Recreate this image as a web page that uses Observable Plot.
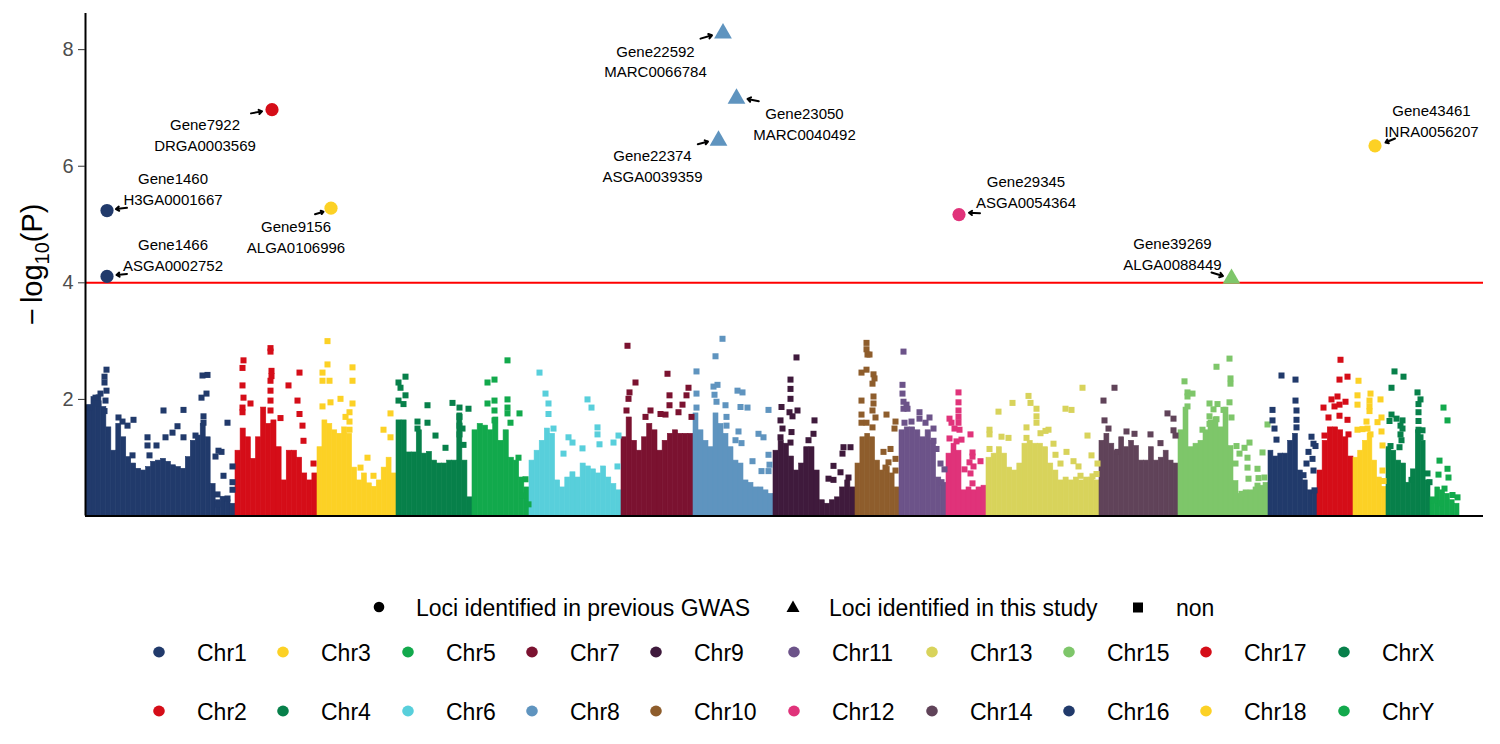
<!DOCTYPE html>
<html><head><meta charset="utf-8">
<script src="https://cdn.jsdelivr.net/npm/d3@7"></script>
<script src="https://cdn.jsdelivr.net/npm/@observablehq/plot@0.6"></script>
<style>
body{margin:0;background:#fff;font-family:"Liberation Sans",Arial,sans-serif;}
#wrap{position:relative;width:1500px;height:744px;overflow:hidden;}
#legend{position:absolute;left:0;top:0;width:1500px;height:744px;pointer-events:none;}
.lt{position:absolute;font-size:23px;color:#000;line-height:1;white-space:nowrap;transform:translateY(-50%);}
.lk{position:absolute;transform:translate(-50%,-50%);}
</style></head><body>
<div id="wrap"><div id="chart"></div><div id="legend"></div></div>
<script>
// ---------- data ----------
const chromosomes = ["Chr1","Chr2","Chr3","Chr4","Chr5","Chr6","Chr7","Chr8","Chr9","Chr10","Chr11","Chr12","Chr13","Chr14","Chr15","Chr16","Chr17","Chr18","ChrX","ChrY"];
const chromLengths = [149,82,79,76,57,92,72,80,82,44,47,40,113,79,90,49,36,33,44,29];
const chromColors = ["#213a6b","#d50d18","#fcd125","#07804a","#12a94c","#58cfdb","#7b1230","#5f94bf","#3f1a3c","#8e5d2c","#6c5389","#e0337a","#d8d35b","#604359","#7ec66a","#213a6b","#d50d18","#fcd125","#07804a","#12a94c"];

// upper edge of the dense cloud of -log10(P) values, sampled evenly along each chromosome
const chr1Top = [1.90,2.04,2.07,1.87,1.52,1.12,1.58,1.35,1.01,0.90,0.81,0.78,0.84,0.93,0.95,0.98,0.93,0.87,0.84,0.81,1.01,1.29,1.38,1.58,1.35,0.55,0.27,0.33,0.27,0.21];
const chr2Top = [1.12,1.50,1.35,0.98,1.35,1.86,1.58,1.64,1.18,0.61,1.12,1.12,1.00,0.73,0.61,0.73];
const chr3Top = [1.18,1.64,1.58,1.47,1.41,1.52,1.41,0.83,0.61,0.73,0.56,0.50,0.61,0.83,1.00,0.73];
const chr4Top = [1.64,1.64,1.09,1.09,1.47,1.07,1.10,0.95,0.90,0.90,0.95,0.95,1.76,0.95,0.32];
const chr5Top = [1.47,1.58,1.55,1.47,1.69,1.29,1.47,1.00,0.95,0.66,0.49];
const chr6Top = [0.95,1.12,1.29,1.50,1.41,0.61,0.49,0.66,0.75,0.66,0.90,0.85,0.80,0.73,0.85,0.66,0.55,0.44];
const chr7Top = [1.35,1.69,1.29,1.12,1.35,1.58,1.47,1.12,1.29,1.41,1.47,1.41,1.41,1.41];
const chr8Top = [1.76,1.47,1.29,1.18,1.76,1.58,1.41,1.18,0.95,0.90,0.61,0.57,0.49,0.49,0.44,0.38];
const chr9Top = [1.12,1.29,1.24,1.02,0.78,0.90,1.18,1.18,0.78,0.27,0.21,0.27,0.32,0.49,0.61,0.49];
const chr10Top = [0.90,1.35,1.41,1.35,0.95,0.78,0.84,0.73,0.49];
const chr11Top = [1.47,1.52,1.52,1.47,1.35,1.47,1.29,0.66,0.57];
const chr12Top = [1.07,1.24,1.12,0.44,0.49,0.44,0.49,0.52];
const chr13Top = [1.00,1.07,1.18,1.07,0.83,0.78,0.90,1.24,1.29,1.24,1.24,1.18,0.90,0.78,0.61,0.66,0.61,0.66,0.61,0.66,0.66,0.61];
const chr14Top = [1.29,1.41,1.24,1.12,1.35,1.18,1.29,1.20,0.95,0.95,1.18,0.95,1.00,1.12,0.95,0.90];
const chr15Top = [1.47,1.86,1.18,1.24,1.29,1.47,1.64,1.69,1.52,1.86,1.20,0.60,0.38,0.44,0.44,0.49,0.52,0.57];
const chr16Top = [1.12,1.02,1.07,1.07,1.29,1.41,0.78,0.61,0.44,0.44];
const chr17Top = [0.78,1.29,1.52,1.52,1.47,1.35,1.02];
const chr18Top = [1.00,1.12,1.29,1.41,0.95,0.66,0.50];
const chrXTop = [1.18,1.12,0.95,0.90,0.57,0.80,1.47,1.29,0.61];
const chrYTop = [0.32,0.49,0.44,0.38,0.27,0.21];

// scattered SNPs above the cloud: [position within chromosome, -log10(P)]
const chr1Snps = [[20,2.51],[18,2.39],[18,2.29],[20,2.15],[19,1.98],[18,1.80],[14,2.10],[9,2.03],[12,1.93],[3,1.86],[32,1.69],[36,1.62],[41,1.55],[47,1.65],[77,1.81],[97,1.82],[91,1.54],[97,1.35],[79,1.35],[86,1.43],[61,1.35],[61,1.21],[70,1.21],[63,1.04],[46,1.04],[116,2.41],[121,2.42],[120,2.10],[115,2.03],[117,1.71],[117,1.60],[141,1.60],[109,1.38],[132,1.12],[135,1.10],[129,1.02],[146,0.85],[137,0.69],[131,0.37],[146,0.58],[146,0.45],[141,0.30],[131,0.20]];
const chr2Snps = [[8,2.67],[7,2.54],[7,2.24],[8,2.03],[15,1.93],[7,1.86],[7,1.78],[35,2.88],[35,2.82],[36,2.49],[36,2.40],[35,2.32],[35,2.15],[35,1.98],[35,1.81],[64,2.46],[53,2.24],[62,1.98],[45,1.68],[64,1.75],[67,1.55],[68,1.29],[78,0.90]];
const chr3Snps = [[10,3.00],[10,2.60],[5,2.46],[35,2.55],[5,2.32],[12,2.32],[35,2.32],[23,2.01],[13,1.95],[5,1.88],[35,1.93],[32,1.78],[32,1.62],[32,1.48],[73,1.76],[66,1.48],[73,1.35],[50,1.00],[43,0.83],[56,0.69],[28,1.70]];
const chr4Snps = [[2,2.29],[9,2.39],[4,2.20],[9,2.07],[2,1.98],[7,1.92],[31,1.90],[31,1.60],[21,1.62],[21,1.50],[39,1.38],[49,1.17],[56,1.94],[63,1.86],[63,1.70],[63,1.55],[63,1.40],[72,1.84],[66,1.50],[67,1.22]];
const chr5Snps = [[15,2.29],[22,2.34],[15,1.93],[22,1.98],[22,1.81],[22,1.64],[35,2.67],[35,2.00],[35,1.86],[35,1.76],[47,1.76],[38,1.60],[46,1.00],[53,0.63],[50,0.35],[56,0.20]];
const chr6Snps = [[10,2.46],[16,2.10],[19,1.93],[19,1.75],[58,2.00],[62,1.86],[68,1.52],[68,1.40],[39,1.35],[43,1.26],[89,1.38],[84,1.26],[53,1.16],[70,1.23],[88,0.85],[34,1.07],[24,1.50]];
const chr7Snps = [[6,2.92],[7,2.01],[8,2.12],[5,1.81],[14,2.29],[29,1.81],[46,2.44],[48,2.07],[48,1.90],[44,1.74],[57,1.78],[61,1.91],[67,2.20],[65,2.07],[24,1.70],[39,1.75],[70,1.70]];
const chr8Snps = [[29,3.04],[22,2.74],[3,2.48],[3,2.10],[3,1.86],[20,2.22],[24,2.25],[21,2.08],[23,1.96],[32,1.90],[44,2.15],[49,2.12],[47,1.87],[54,1.86],[75,1.82],[45,1.45],[65,1.41],[70,1.35],[75,1.05],[59,0.94],[68,0.77],[75,0.77],[76,0.88],[33,1.70],[33,1.55],[48,1.25],[42,1.30]];
const chr9Snps = [[23,2.72],[17,2.34],[17,2.18],[17,2.01],[16,1.78],[19,1.71],[18,1.44],[17,1.26],[24,1.81],[8,1.87],[7,1.64],[9,1.50],[41,1.64],[40,1.41],[77,1.18],[70,1.18],[69,1.07],[60,0.86],[55,0.64],[60,0.62],[67,0.75],[75,0.66],[7,1.35],[35,1.30]];
const chr10Snps = [[11,2.97],[11,2.86],[12,2.77],[14,2.77],[11,2.51],[6,2.46],[18,2.43],[19,2.36],[17,2.27],[18,2.05],[6,1.98],[18,1.93],[17,1.81],[6,1.74],[20,1.69],[31,1.74],[40,1.62],[39,1.50],[6,1.60],[11,1.60],[17,1.52],[33,0.92],[40,0.98],[30,0.83],[40,0.78],[28,1.10],[35,1.15]];
const chr11Snps = [[4,2.82],[3,2.25],[3,2.10],[4,1.96],[7,1.91],[4,1.84],[8,1.84],[20,1.78],[20,1.67],[30,1.69],[5,1.60],[12,1.62],[34,1.50],[34,1.29],[41,0.90],[45,0.80],[42,0.58],[26,1.60],[37,1.15]];
const chr12Snps = [[12,2.12],[12,1.95],[12,1.81],[12,1.70],[3,1.67],[5,1.60],[12,1.60],[8,1.50],[13,1.48],[15,1.31],[24,1.40],[3,1.33],[10,1.28],[26,1.09],[26,1.02],[34,0.94],[23,0.92],[27,0.85],[24,0.73],[26,0.56],[18,0.80]];
const chr13Snps = [[96,2.20],[42,2.06],[26,1.94],[44,1.94],[12,1.79],[50,1.84],[79,1.84],[85,1.82],[50,1.71],[50,1.60],[40,1.52],[3,1.48],[3,1.40],[54,1.42],[62,1.48],[59,1.46],[101,1.38],[15,1.36],[22,1.34],[40,1.34],[67,1.24],[3,1.15],[80,1.10],[105,1.04],[87,0.94],[111,0.90],[94,0.69],[110,0.72],[106,0.68],[74,0.90],[69,1.05],[92,0.85]];
const chr14Snps = [[15,2.20],[4,1.98],[5,1.64],[35,1.41],[51,1.40],[68,1.76],[74,1.67],[74,1.47],[76,1.38],[18,1.10],[9,1.50],[27,1.45],[61,1.25]];
const chr15Snps = [[51,2.70],[38,2.56],[6,2.31],[52,2.36],[52,2.27],[9,2.12],[14,2.10],[9,2.05],[31,1.93],[39,1.92],[51,1.95],[9,1.88],[35,1.83],[45,1.82],[31,1.71],[53,1.69],[38,1.66],[31,1.58],[24,1.48],[89,1.57],[71,1.26],[66,1.17],[61,1.07],[69,1.00],[84,1.09],[79,0.81],[69,0.83],[70,0.64],[80,0.65],[86,0.66],[63,0.38],[79,0.52],[57,0.90],[58,1.20]];
const chr16Snps = [[13,2.41],[27,2.34],[4,1.82],[27,1.98],[28,1.81],[28,1.65],[4,1.64],[6,1.50],[28,1.52],[8,1.31],[43,1.36],[45,1.24],[47,1.20],[44,0.98],[45,0.78],[46,0.44],[38,0.90],[35,0.70],[40,1.10]];
const chr17Snps = [[23,2.68],[30,2.39],[22,2.34],[14,2.00],[20,2.05],[28,1.96],[22,1.91],[6,1.86],[17,1.88],[11,1.69],[22,1.72],[30,1.65],[7,1.38],[31,1.40]];
const chr18Snps = [[5,2.32],[17,2.10],[4,2.07],[16,1.98],[16,1.88],[16,1.80],[27,2.00],[4,1.91],[28,1.69],[13,1.62],[24,1.61],[4,1.48],[9,1.49],[14,1.50],[28,1.45],[17,1.40],[29,1.21],[29,0.78],[30,0.60],[27,0.45]];
const chrXSnps = [[8,2.48],[17,2.39],[5,2.20],[31,2.12],[34,2.00],[32,1.92],[5,1.74],[32,1.78],[10,1.67],[16,1.64],[3,1.63],[32,1.63],[14,1.55],[16,1.50],[32,1.48],[36,1.47],[14,1.40],[15,1.30],[4,1.20],[13,1.18],[34,1.35],[41,0.73],[43,0.58],[25,0.62]];
const chrYSnps = [[13,1.86],[17,1.64],[9,0.95],[17,0.81],[8,0.71],[18,0.66],[14,0.47],[27,0.32],[22,0.36],[4,0.27],[10,0.22]];

// significant loci
const sigGenes = ["Gene1460","Gene1466","Gene7922","Gene9156","Gene22592","Gene23050","Gene22374","Gene29345","Gene39269","Gene43461"];
const sigSnps = ["H3GA0001667","ASGA0002752","DRGA0003569","ALGA0106996","MARC0066784","MARC0040492","ASGA0039359","ASGA0054364","ALGA0088449","INRA0056207"];
const sigChrom = ["Chr1","Chr1","Chr2","Chr3","Chr8","Chr8","Chr8","Chr12","Chr15","Chr18"];
const sigPos = [20.5,20.5,36.5,13.5,29.5,43,25,12.5,53,21.5];
const sigLogP = [5.24,4.11,6.97,5.28,8.28,7.16,6.44,5.17,4.07,6.35];
const sigSource = ["previous","previous","previous","previous","this","this","this","previous","this","previous"];
const threshold = 4;
const yTicks = [2,4,6,8];
const shapeLabels = ["Loci identified in previous GWAS","Loci identified in this study","non"];

// ---------- layout (pixels) ----------
const W = 1500, H = 560, mTop = 13, mBottom = 44.5, mLeft = 85, mRight = 17;
const yMax = 8.62;
// label offset [dx,dy], arrow start, arrow end (px relative to the point)
const sigLayout = [
  {t:[66,-22.5], a:[20,-2.7], b:[9,-1.5]},
  {t:[66,-22.7], a:[20,-2.5], b:[9.5,-1.5]},
  {t:[-67,24], a:[-21,3.7], b:[-10,1.7]},
  {t:[-35,27.5], a:[-16,6], b:[-7.5,3.5]},
  {t:[-67.5,27], a:[-22.5,5.3], b:[-11,2]},
  {t:[68,24], a:[22.3,2.7], b:[11,0.3]},
  {t:[-66,24], a:[-20.7,3.6], b:[-10.5,1]},
  {t:[67,-23.7], a:[21,-1.3], b:[10,-1.8]},
  {t:[-59,-26], a:[-20,-6.3], b:[-8.5,-2.7]},
  {t:[56.5,-26.2], a:[20,-7.3], b:[10.5,-3.3]}
];

const tops = [chr1Top,chr2Top,chr3Top,chr4Top,chr5Top,chr6Top,chr7Top,chr8Top,chr9Top,chr10Top,chr11Top,chr12Top,chr13Top,chr14Top,chr15Top,chr16Top,chr17Top,chr18Top,chrXTop,chrYTop];
const snps = [chr1Snps,chr2Snps,chr3Snps,chr4Snps,chr5Snps,chr6Snps,chr7Snps,chr8Snps,chr9Snps,chr10Snps,chr11Snps,chr12Snps,chr13Snps,chr14Snps,chr15Snps,chr16Snps,chr17Snps,chr18Snps,chrXSnps,chrYSnps];
const starts = chromLengths.map((_, i) => d3.sum(chromLengths.slice(0, i)));
const chrIndex = new Map(chromosomes.map((c, i) => [c, i]));
const genomeLen = d3.sum(chromLengths);

const bars = chromosomes.flatMap((c, i) => {
  const t = tops[i], w = chromLengths[i] / t.length;
  return t.map((v, j) => ({chr: c, x1: starts[i] + j * w, x2: starts[i] + (j + 1) * w, v}));
});
const pts = chromosomes.flatMap((c, i) => snps[i].map(([p, v]) => ({chr: c, x: starts[i] + p, v})));
const sig = sigGenes.map((g, i) => ({
  gene: g, snp: sigSnps[i], chr: sigChrom[i],
  x: starts[chrIndex.get(sigChrom[i])] + sigPos[i], v: sigLogP[i], src: sigSource[i], lay: sigLayout[i]
}));

const xDomain = [-1, genomeLen + 24];
const xUnit = (W - mLeft - mRight) / (xDomain[1] - xDomain[0]);
const yPx = d3.scaleLinear([0, yMax], [H - mBottom, mTop]);
const yOff = (v, dpx) => yPx.invert(yPx(v) + dpx);
const xOff = (x, dpx) => x + dpx / xUnit;

const chart = Plot.plot({
  width: W, height: H, marginTop: mTop, marginBottom: mBottom, marginLeft: mLeft, marginRight: mRight,
  style: {fontFamily: '"Liberation Sans", Arial, sans-serif', background: "#fff", overflow: "visible"},
  x: {domain: xDomain, axis: null},
  y: {domain: [0, yMax], axis: null},
  color: {domain: chromosomes, range: chromColors},
  symbol: {domain: ["previous", "this"], range: ["circle", "triangle"]},
  marks: [
    Plot.rectY(bars, {x1: "x1", x2: "x2", y1: 0, y2: "v", fill: "chr", stroke: "chr", strokeWidth: 0.6}),
    Plot.dot(pts, {x: "x", y: "v", fill: "chr", symbol: "square", r: 3.4}),
    Plot.ruleY([threshold], {stroke: "#ff0000", strokeWidth: 2}),
    Plot.ruleX([xDomain[0]], {stroke: "#000", strokeWidth: 2}),
    Plot.ruleY([0], {stroke: "#000", strokeWidth: 2.2}),
    Plot.axisY({ticks: yTicks, tickSize: 7, tickPadding: 5, fontSize: 20, stroke: "#333", fill: "#4d4d4d", label: null}),
    Plot.dot(sig, {x: "x", y: "v", fill: "chr", symbol: "src", r: 6.6}),
    Plot.arrow(sig, {
      x1: d => xOff(d.x, d.lay.a[0]), y1: d => yOff(d.v, d.lay.a[1]),
      x2: d => xOff(d.x, d.lay.b[0]), y2: d => yOff(d.v, d.lay.b[1]),
      stroke: "#000", strokeWidth: 2, headLength: 6, headAngle: 70
    }),
    Plot.text(sig, {
      x: d => xOff(d.x, d.lay.t[0]), y: d => yOff(d.v, d.lay.t[1]),
      text: d => `${d.gene}\n${d.snp}`, fontSize: 15, lineHeight: 1.38, fill: "#000"
    })
  ]
});
document.getElementById("chart").appendChild(chart);

// y-axis title with subscript
const yt = d3.select(chart).append("text")
  .attr("transform", `translate(42,${(mTop + H - mBottom) / 2}) rotate(-90)`)
  .attr("text-anchor", "middle").attr("font-size", 29).attr("fill", "#000");
yt.append("tspan").text("\u2212");
yt.append("tspan").attr("dx", 5).text("log");
yt.append("tspan").attr("font-size", 20).attr("dy", 7).text("10");
yt.append("tspan").attr("dy", -7).text("(P)");

// ---------- legend ----------
const leg = document.getElementById("legend");
function addText(x, y, s) {
  const e = document.createElement("div"); e.className = "lt"; e.style.left = x + "px"; e.style.top = y + "px"; e.textContent = s; leg.appendChild(e);
}
function addKey(x, y, svgInner, w, h) {
  const e = document.createElement("div"); e.className = "lk"; e.style.left = x + "px"; e.style.top = y + "px";
  e.innerHTML = `<svg width="${w}" height="${h}" viewBox="0 0 ${w} ${h}">${svgInner}</svg>`; leg.appendChild(e);
}
const shapeKeyX = [379, 793, 1138], shapeTextX = [416, 829, 1176], shapeRowY = 608;
addKey(shapeKeyX[0], shapeRowY, `<circle cx="6" cy="6" r="5.3" fill="#000"/>`, 12, 12);
addKey(shapeKeyX[1], shapeRowY, `<path d="M7,0.5 L13.5,12 L0.5,12 Z" fill="#000"/>`, 14, 13);
addKey(shapeKeyX[2], shapeRowY, `<rect x="0.5" y="0.5" width="10" height="10" fill="#000"/>`, 11, 11);
shapeLabels.forEach((s, i) => addText(shapeTextX[i], shapeRowY, s));

const colKeyX = [159, 283, 408, 532, 656, 794, 932, 1069, 1206, 1344];
const rowY = [653, 712];
chromosomes.forEach((c, i) => {
  const col = Math.floor(i / 2), row = i % 2;
  addKey(colKeyX[col], rowY[row], `<ellipse cx="6" cy="6" rx="5.8" ry="5.4" fill="${chromColors[i]}"/>`, 12, 12);
  addText(colKeyX[col] + 38, rowY[row], c);
});
</script>
</body></html>
